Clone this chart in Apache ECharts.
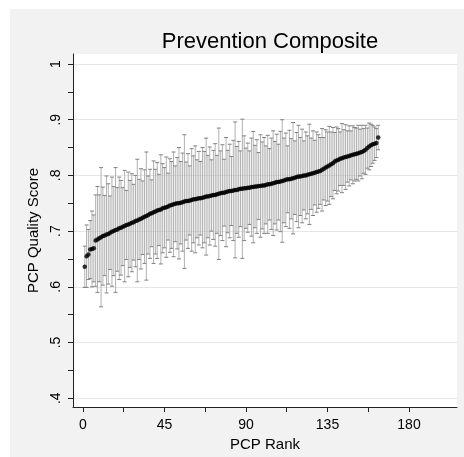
<!DOCTYPE html>
<html>
<head>
<meta charset="utf-8">
<script src="https://cdn.jsdelivr.net/npm/echarts@6/dist/echarts.min.js"></script>
<style>
html,body{margin:0;padding:0;background:#ffffff;}
#chart{width:464px;height:457px;}
</style>
</head>
<body>
<div id="chart"></div>
<script>
// ---- Data ----
const title = "Prevention Composite";
const xName = "PCP Rank";
const yName = "PCP Quality Score";
const xTickLabels = [0, 45, 90, 135, 180];
const xTickMarks = [0, 22.5, 45, 67.5, 90, 112.5, 135, 157.5, 180];
const yTickLabels = [0.4, 0.5, 0.6, 0.7, 0.8, 0.9, 1];
const yTickMarks = [0.4, 0.45, 0.5, 0.55, 0.6, 0.65, 0.7, 0.75, 0.8, 0.85, 0.9, 0.95, 1];

// mean quality score for each PCP rank 1..163
const meanScore = [
  .636,.655,.658,.667,.668,.669,.683,.685,.687,.689,
  .691,.692,.694,.695,.697,.699,.700,.702,.703,.705,
  .706,.708,.709,.711,.712,.713,.715,.716,.718,.719,
  .721,.722,.724,.726,.727,.729,.731,.732,.734,.735,
  .737,.738,.739,.741,.742,.743,.744,.746,.747,.748,
  .749,.750,.750,.751,.752,.753,.754,.754,.755,.756,
  .757,.757,.758,.759,.759,.760,.761,.762,.762,.763,
  .764,.765,.765,.766,.767,.768,.769,.769,.770,.771,
  .772,.772,.773,.774,.774,.775,.776,.776,.777,.777,
  .778,.778,.779,.779,.780,.780,.781,.781,.782,.782,
  .783,.784,.784,.785,.786,.787,.788,.788,.789,.790,
  .791,.792,.793,.793,.794,.795,.796,.797,.798,.798,
  .799,.800,.800,.801,.802,.803,.804,.805,.806,.807,
  .808,.810,.812,.814,.816,.818,.820,.822,.825,.827,
  .828,.830,.831,.832,.833,.834,.835,.836,.837,.838,
  .839,.840,.841,.842,.844,.846,.849,.852,.854,.856,
  .857,.858,.868
];
// half-width of the confidence interval for each rank
const ciHalfWidth = [
  .037,.056,.045,.052,.068,.060,.082,.095,.078,.125,
  .088,.072,.105,.090,.066,.098,.080,.112,.075,.092,
  .085,.070,.100,.062,.094,.078,.088,.068,.082,.110,
  .072,.090,.066,.084,.115,.070,.080,.060,.092,.076,
  .086,.064,.098,.080,.072,.090,.060,.084,.078,.094,
  .068,.082,.100,.074,.088,.120,.070,.085,.062,.092,
  .078,.096,.070,.084,.066,.090,.082,.105,.074,.088,
  .064,.080,.092,.070,.118,.076,.086,.060,.098,.074,
  .084,.062,.090,.122,.078,.086,.068,.125,.094,.072,
  .080,.066,.088,.100,.074,.084,.060,.092,.078,.086,
  .070,.088,.064,.082,.094,.074,.086,.068,.090,.110,
  .076,.084,.060,.088,.072,.100,.066,.080,.092,.070,
  .084,.062,.078,.070,.090,.064,.076,.058,.072,.066,
  .060,.074,.056,.068,.062,.070,.058,.064,.052,.060,
  .056,.048,.062,.050,.058,.046,.054,.044,.052,.048,
  .046,.050,.042,.048,.040,.044,.036,.042,.038,.034,
  .030,.026,.022
];

// ---- Build tables ----
const ranks = meanScore.map((_, i) => i + 1);
const pointData = ranks.map((r, i) => [r, meanScore[i]]);
const barData = ranks.map((r, i) => [r, meanScore[i] - ciHalfWidth[i], meanScore[i] + ciHalfWidth[i]]);

const FONT = "Liberation Sans, Arial, Helvetica, sans-serif";
const chart = echarts.init(document.getElementById('chart'), null, {renderer: 'canvas'});

function fmtY(v) {
  if (Math.abs(v - 1) < 1e-9) return '1';
  return '.' + Math.round(v * 10);
}

const option = {
  backgroundColor: '#ffffff',
  animation: false,
  graphic: [{
    type: 'rect',
    z: -100,
    silent: true,
    shape: {x: 10, y: 9, width: 454, height: 448},
    style: {fill: '#f2f2f2'}
  }],
  title: {
    text: title,
    left: 265,
    top: 26,
    textAlign: 'center',
    textStyle: {fontFamily: FONT, fontSize: 22, fontWeight: 'normal', color: '#000'}
  },
  grid: {
    left: 73, top: 54, right: 7, bottom: 49,
    show: true, backgroundColor: '#ffffff', borderWidth: 0
  },
  xAxis: {
    type: 'value',
    min: -5.5, max: 206.5,
    name: xName,
    nameLocation: 'middle',
    nameGap: 25,
    nameTextStyle: {fontFamily: FONT, fontSize: 15, color: '#000'},
    axisLine: {show: true, onZero: false, lineStyle: {color: '#222', width: 1}},
    axisTick: {show: true, length: 5, customValues: xTickMarks, lineStyle: {color: '#222'}},
    axisLabel: {
      customValues: xTickLabels, margin: 11,
      fontFamily: FONT, fontSize: 14, color: '#000'
    },
    splitLine: {show: false}
  },
  yAxis: [{
    type: 'value',
    min: 0.384, max: 1.018,
    name: yName,
    nameLocation: 'middle',
    nameGap: 28,
    nameTextStyle: {fontFamily: FONT, fontSize: 15, color: '#000'},
    axisLine: {show: true, onZero: false, lineStyle: {color: '#222', width: 1}},
    axisTick: {show: true, length: 5, customValues: yTickLabels, lineStyle: {color: '#222'}},
    axisLabel: {
      customValues: yTickLabels, rotate: 90, margin: 10,
      fontFamily: FONT, fontSize: 14, color: '#000',
      formatter: fmtY
    },
    splitLine: {show: true, lineStyle: {color: '#e6e6e6', width: 1}}
  }, {
    type: 'value',
    min: 0.384, max: 1.018,
    position: 'left',
    offset: 0,
    axisLine: {show: false, onZero: false},
    axisTick: {show: true, length: 5, customValues: yTickMarks, lineStyle: {color: '#222'}},
    axisLabel: {show: false},
    splitLine: {show: false}
  }],
  series: [{
    type: 'custom',
    xAxisIndex: 0, yAxisIndex: 0,
    data: barData,
    encode: {x: 0, y: [1, 2]},
    renderItem: function (params, api) {
      const x = api.value(0), lo = api.value(1), hi = api.value(2);
      const top = api.coord([x, hi]);
      const bot = api.coord([x, lo]);
      const w = 2;
      const stroke = '#a8a8a8';
      return {
        type: 'group',
        children: [
          {type: 'line', shape: {x1: top[0], y1: top[1], x2: bot[0], y2: bot[1]}, style: {stroke: stroke, lineWidth: 0.9}},
          {type: 'line', shape: {x1: top[0] - w, y1: top[1], x2: top[0] + w, y2: top[1]}, style: {stroke: '#808080', lineWidth: 1}},
          {type: 'line', shape: {x1: bot[0] - w, y1: bot[1], x2: bot[0] + w, y2: bot[1]}, style: {stroke: '#808080', lineWidth: 1}}
        ]
      };
    },
    silent: true,
    z: 2
  }, {
    type: 'scatter',
    xAxisIndex: 0, yAxisIndex: 0,
    data: pointData,
    symbol: 'circle',
    symbolSize: 4.5,
    itemStyle: {color: '#000000'},
    silent: true,
    z: 3
  }]
};
chart.setOption(option);
</script>
</body>
</html>
